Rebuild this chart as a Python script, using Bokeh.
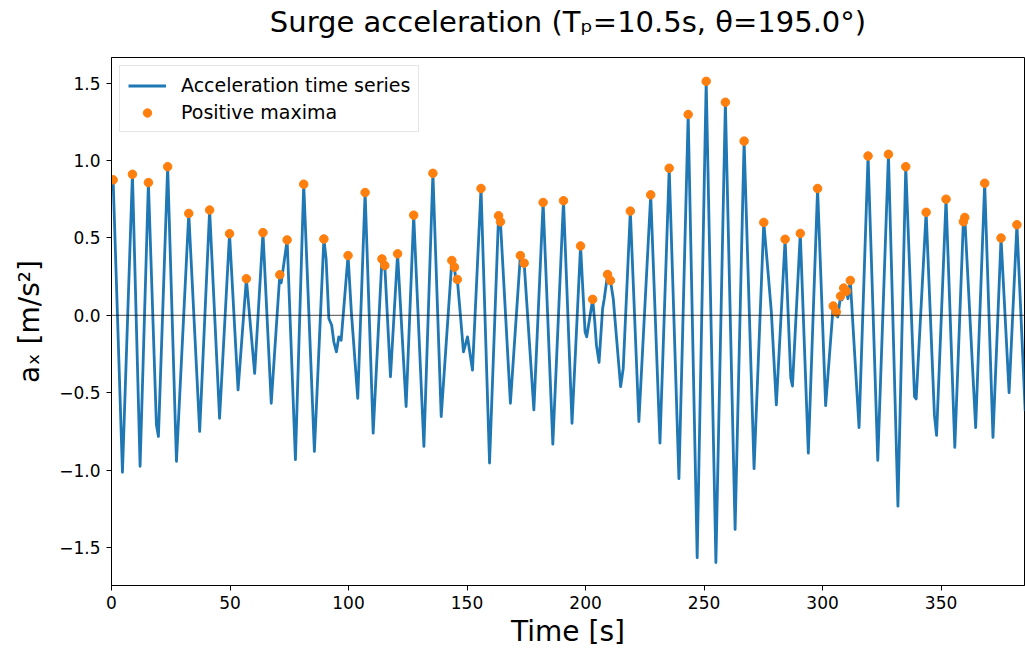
from bokeh.plotting import figure
from bokeh.models import Range1d, FixedTicker, Span, Legend, LegendItem, Title
from bokeh.embed import file_html
from bokeh.resources import INLINE

# ---- data ----
series_t = [0.0, 0.69, 4.62, 8.83, 12.06, 15.57, 18.95, 19.8, 23.7, 27.4, 32.6, 37.2,
            41.4, 45.6, 49.8, 53.4, 56.9, 60.4, 63.9, 67.4, 71.0, 71.6, 74.1, 77.6,
            81.1, 85.6, 89.6, 90.55, 91.7, 92.9, 93.8, 94.9, 95.9, 96.9, 99.8, 101.2,
            103.9, 107.0, 110.4, 114.1, 114.7, 115.3, 117.7, 120.7, 124.3, 127.5, 131.8,
            135.6, 139.1, 143.6, 144.2, 144.7, 145.3, 145.9, 147.1, 148.5, 150.2, 152.3,
            155.9, 159.5, 163.3, 163.7, 164.1, 168.3, 172.5, 173.3, 174.1, 178.2, 182.1,
            186.2, 190.7, 194.3, 197.9, 199.8, 200.5, 203.0, 203.9, 204.6, 205.7, 207.2,
            207.9, 209.3, 209.9, 210.5, 211.7, 212.4, 213.8, 214.8, 215.9, 218.9, 222.5,
            227.5, 231.4, 235.3, 239.4, 243.3, 247.1, 250.9, 255.0, 259.0, 263.1, 266.9,
            271.1, 275.2, 277.0, 278.4, 280.5, 284.2, 286.6, 287.3, 290.6, 294.0, 297.9,
            301.3, 304.5, 305.1, 305.8, 306.4, 307.6, 308.2, 308.9, 309.5, 310.1, 310.7,
            311.7, 315.4, 319.2, 323.3, 327.8, 331.8, 335.1, 338.8, 339.5, 343.7, 347.2,
            348.1, 352.1, 355.8, 359.4, 359.7, 360.0, 364.6, 368.4, 371.9, 375.3, 378.7,
            382.0, 385.5]
series_v = [0.80, 0.875, -1.014, 0.911, -0.975, 0.857, -0.707, -0.782, 0.960, -0.943, 0.658, -0.750,
            0.680, -0.665, 0.527, -0.482, 0.236, -0.375, 0.534, -0.568, 0.262, 0.21, 0.487, -0.932,
            0.847, -0.879, 0.493, 0.364, -0.021, -0.064, -0.171, -0.236, -0.139, -0.161, 0.386, 0.021,
            -0.536, 0.793, -0.761, 0.364, 0.30, 0.322, -0.397, 0.397, -0.589, 0.647, -0.847,
            0.917, -0.654, 0.354, 0.30, 0.311, 0.22, 0.232, 0.021, -0.236, -0.139, -0.354,
            0.819, -0.954, 0.643, 0.59, 0.604, -0.568, 0.386, 0.32, 0.337, -0.611, 0.729,
            -0.832, 0.740, -0.697, 0.448, -0.107, -0.139, 0.103, -0.043, -0.193, -0.304, 0.043,
            0.107, 0.264, 0.21, 0.225, 0.107, -0.021, -0.279, -0.461, -0.343, 0.673, -0.686,
            0.778, -0.825, 0.950, -1.055, 1.297, -1.565, 1.511, -1.597, 1.376, -1.383, 1.125,
            -0.990, 0.600, 0.279, 0.021, -0.579, 0.491, -0.407, -0.457, 0.529, -0.890, 0.819,
            -0.583, 0.060, 0.01, 0.021, -0.011, 0.124, 0.10, 0.176, 0.145, 0.156, 0.107,
            0.225, -0.725, 1.029, -0.937, 1.040, -1.233, 0.960, -0.525, -0.540, 0.665, -0.645,
            -0.776, 0.750, -0.853, 0.604, 0.59, 0.632, -0.725, 0.853, -0.789, 0.499, -0.499,
            0.585, -0.62]

maxima_t = [0.69, 8.83, 15.57, 23.7, 32.6, 41.4, 49.8, 56.9, 63.9, 71.0, 74.1, 81.1,
            89.6, 99.8, 107.0, 114.1, 115.3, 120.7, 127.5, 135.6, 143.6, 144.7, 145.9,
            155.9, 163.3, 164.1, 172.5, 174.1, 182.1, 190.7, 197.9, 203.0, 209.3, 210.5,
            218.9, 227.5, 235.3, 243.3, 250.9, 259.0, 266.9, 275.2, 284.2, 290.6, 297.9,
            304.5, 305.8, 307.6, 308.9, 310.1, 311.7, 319.2, 327.8, 335.1, 343.7, 352.1,
            359.4, 360.0, 368.4, 375.3, 382.0]
maxima_v = [0.875, 0.911, 0.857, 0.960, 0.658, 0.680, 0.527, 0.236, 0.534, 0.262, 0.487, 0.847,
            0.493, 0.386, 0.793, 0.364, 0.322, 0.397, 0.647, 0.917, 0.354, 0.311, 0.232,
            0.819, 0.643, 0.604, 0.386, 0.337, 0.729, 0.740, 0.448, 0.103, 0.264, 0.225,
            0.673, 0.778, 0.950, 1.297, 1.511, 1.376, 1.125, 0.600, 0.491, 0.529, 0.819,
            0.060, 0.021, 0.124, 0.176, 0.156, 0.225, 1.029, 1.040, 0.960, 0.665, 0.750,
            0.604, 0.632, 0.853, 0.499, 0.585]

x_ticks = [0, 50, 100, 150, 200, 250, 300, 350]
y_ticks = [-1.5, -1.0, -0.5, 0.0, 0.5, 1.0, 1.5]
y_tick_labels = ["\u22121.5", "\u22121.0", "\u22120.5", "0.0", "0.5", "1.0", "1.5"]

title_text = "Surge acceleration (T\u209a=10.5s, \u03b8=195.0\u00b0)"
x_label = "Time [s]"
y_label = "a\u2093 [m/s\u00b2]"
legend_labels = ["Acceleration time series", "Positive maxima"]

FONT = "DejaVu Sans"

p = figure(width=1025, height=653, output_backend="svg", toolbar_location=None,
           x_range=Range1d(0, 385.2), y_range=Range1d(-1.745, 1.665),
           min_border_left=111, min_border_right=1, min_border_bottom=68, min_border_top=5,
           title_location=None)

# spacer title (closest to the frame), then the visible title above it
p.add_layout(Title(text=" ", text_font_size="10px", standoff=4, text_color="white"), "above")
p.add_layout(Title(text=title_text, align="center", text_font=FONT, text_font_size="29px",
                   text_font_style="normal", text_color="black", standoff=4), "above")

p.background_fill_color = "white"
p.border_fill_color = "white"
p.outline_line_color = "black"
p.outline_line_width = 1
p.xgrid.visible = False
p.ygrid.visible = False

for ax in (p.xaxis[0], p.yaxis[0]):
    ax.axis_line_color = "black"
    ax.major_tick_line_color = "black"
    ax.major_tick_out = 5
    ax.major_tick_in = 0
    ax.minor_tick_line_color = None
    ax.major_label_text_font = FONT
    ax.major_label_text_font_size = "17px"
    ax.major_label_text_color = "black"
    ax.axis_label_text_font = FONT
    ax.axis_label_text_font_style = "normal"
    ax.axis_label_text_font_size = "28px"
    ax.axis_label_text_color = "black"

p.xaxis.ticker = FixedTicker(ticks=x_ticks)
p.yaxis.ticker = FixedTicker(ticks=y_ticks)
p.yaxis.major_label_overrides = {t: l for t, l in zip(y_ticks, y_tick_labels)}
p.xaxis.axis_label = x_label
p.yaxis.axis_label = y_label
p.xaxis.major_label_standoff = 5
p.yaxis.major_label_standoff = 6
p.xaxis.axis_label_standoff = 3
p.yaxis.axis_label_standoff = 10

p.add_layout(Span(location=0, dimension="width", line_color="black", line_width=1, line_alpha=0.7))

r_line = p.line(series_t, series_v, line_color="#1f77b4", line_width=2.8, line_join="round")
r_pts = p.scatter(maxima_t, maxima_v, size=8.5, fill_color="#ff7f0e", line_color="#ff7f0e")

legend = Legend(items=[LegendItem(label=legend_labels[0], renderers=[r_line]),
                       LegendItem(label=legend_labels[1], renderers=[r_pts])],
                location="top_left", margin=8, padding=8, spacing=5,
                glyph_width=38, glyph_height=21, label_height=21, label_standoff=15,
                label_text_font=FONT, label_text_font_size="19px", label_text_color="black",
                border_line_color="#cccccc", border_line_width=1,
                background_fill_alpha=0.8)
p.add_layout(legend)

open("out.html", "w").write(file_html(p, INLINE))
